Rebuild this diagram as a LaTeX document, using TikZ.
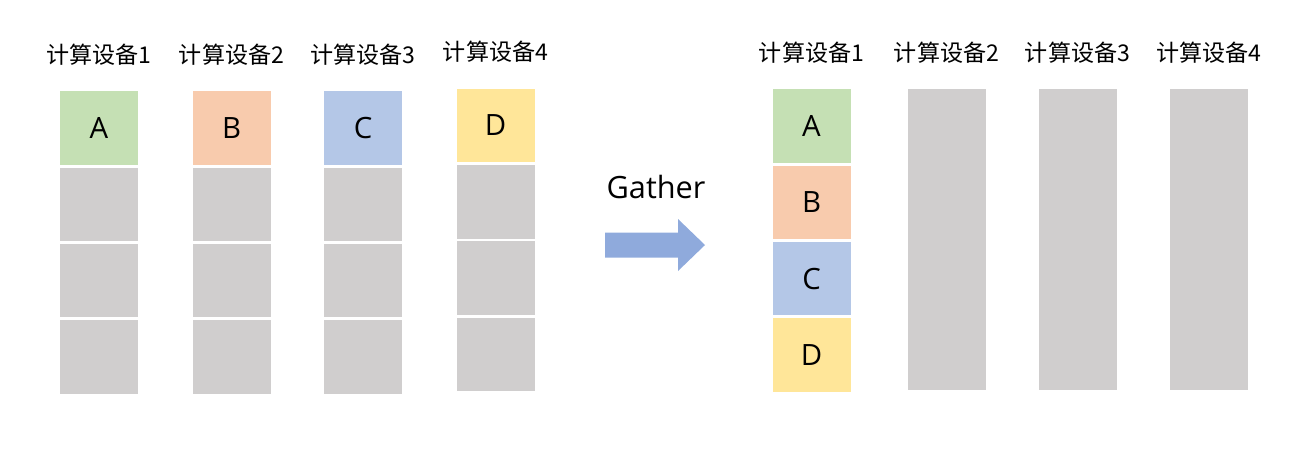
\documentclass[tikz,border=0pt]{standalone}
\usepackage{fontspec}
\setmainfont{Open Sans}
\newfontfamily\cjkfont{Noto Sans CJK SC}
\usepackage{tikz}
\usetikzlibrary{positioning}
\definecolor{cellgreen}{HTML}{C5E0B4}
\definecolor{cellorange}{HTML}{F8CBAD}
\definecolor{cellblue}{HTML}{B4C7E7}
\definecolor{cellyellow}{HTML}{FFE699}
\definecolor{cellgray}{HTML}{D0CECE}
\definecolor{arrowblue}{HTML}{8FAADC}

\begin{document}
\begin{tikzpicture}[
  x=0.75pt, y=-0.75pt,
  node distance=1.7pt,
  cell/.style={rectangle, fill=cellgray, minimum width=58.5pt, minimum height=55.1pt, inner sep=0pt, font=\fontsize{22}{26}\selectfont},
  tallcell/.style={cell, minimum height=226pt},
  devlabel/.style={inner sep=0pt, font=\cjkfont\fontsize{17.3}{20}\selectfont}
]
\useasboundingbox (0,0) rectangle (1301,454);

% before: one block per device
\node[cell, fill=cellgreen] (a1) at (99,128) {A};
\node[cell, below=of a1] (a2) {};
\node[cell, below=of a2] (a3) {};
\node[cell, below=of a3] (a4) {};

\node[cell, fill=cellorange] (b1) at (231.5,128) {B};
\node[cell, below=of b1] (b2) {};
\node[cell, below=of b2] (b3) {};
\node[cell, below=of b3] (b4) {};

\node[cell, fill=cellblue] (c1) at (363,128) {C};
\node[cell, below=of c1] (c2) {};
\node[cell, below=of c2] (c3) {};
\node[cell, below=of c3] (c4) {};

\node[cell, fill=cellyellow] (d1) at (495.5,125.5) {D};
\node[cell, below=of d1] (d2) {};
\node[cell, below=of d2] (d3) {};
\node[cell, below=of d3] (d4) {};

\node[devlabel, above=19pt of a1] {计算设备1};
\node[devlabel, above=19pt of b1] {计算设备2};
\node[devlabel, above=19pt of c1] {计算设备3};
\node[devlabel, above=19pt of d1] {计算设备4};

% gather arrow
\node[font=\fontsize{23}{27}\selectfont, inner sep=0pt, anchor=base] (gather) at (656,198) {Gather};
\fill[arrowblue] (605,232.5) -- (678,232.5) -- (678,219) -- (705,245) -- (678,271)
  -- (678,257.5) -- (605,257.5) -- cycle;

% after: everything on device 1
\node[cell, fill=cellgreen] (ra) at (811.5,126) {A};
\node[cell, fill=cellorange, below=of ra] (rb) {B};
\node[cell, fill=cellblue, below=of rb] (rc) {C};
\node[cell, fill=cellyellow, below=of rc] (rd) {D};

\node[tallcell] (r2) at (946.5,239.8) {};
\node[tallcell] (r3) at (1077.5,239.8) {};
\node[tallcell] (r4) at (1209,239.8) {};

\node[devlabel, above=19pt of ra] {计算设备1};
\node[devlabel, above=19pt of r2] {计算设备2};
\node[devlabel, above=19pt of r3] {计算设备3};
\node[devlabel, above=19pt of r4] {计算设备4};
\end{tikzpicture}
\end{document}
